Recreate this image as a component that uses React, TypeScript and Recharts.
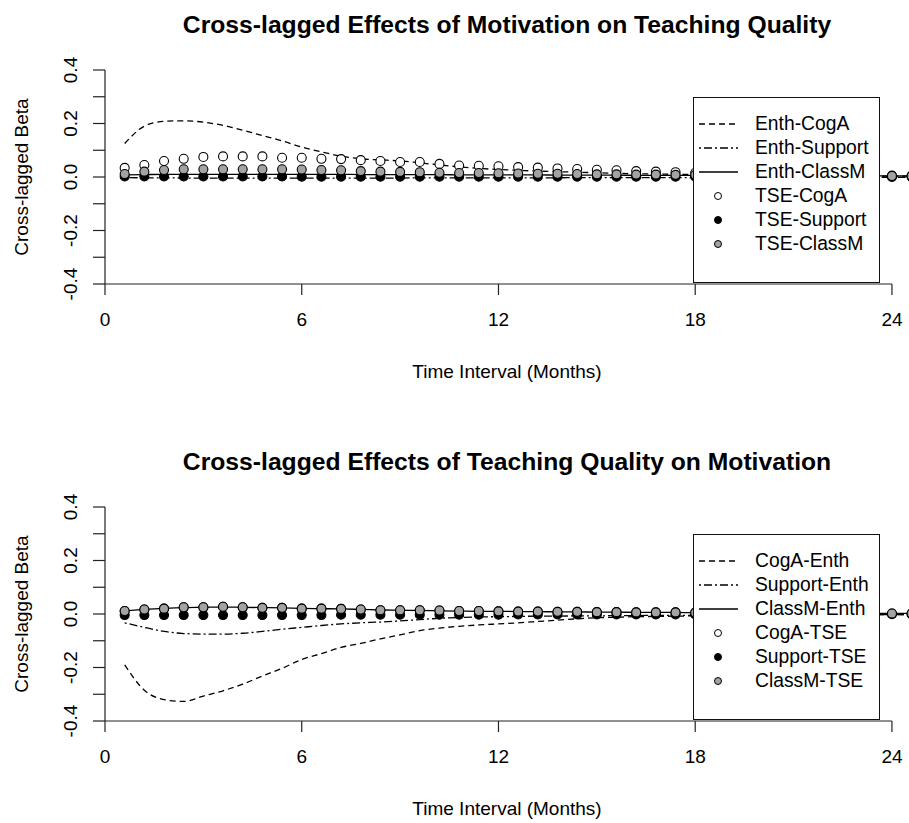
import { ComposedChart, Line, XAxis, YAxis, ReferenceLine, Label } from 'recharts'

const FONT = '"Liberation Sans", Arial, Helvetica, sans-serif'
const GRAY = '#a3a3a3'
const AXIS = '#222'

// time lags in months
const times = [0.6, 1.2, 1.8, 2.4, 3.0, 3.6, 4.2, 4.8, 5.4, 6.0, 6.6, 7.2, 7.8, 8.4, 9.0, 9.6, 10.2, 10.8, 11.4, 12.0, 12.6, 13.2, 13.8, 14.4, 15.0, 15.6, 16.2, 16.8, 17.4, 18.0, 18.6, 19.2, 19.8, 20.4, 21.0, 21.6, 22.2, 22.8, 23.4, 24.0, 24.6]
const xTicks = [0, 6, 12, 18, 24]
const yTicks = [-0.4, -0.3, -0.2, -0.1, 0, 0.1, 0.2, 0.3, 0.4]

// motivation -> teaching quality
const enthCogA = [0.125, 0.19, 0.208, 0.21, 0.205, 0.193, 0.175, 0.155, 0.135, 0.112, 0.094, 0.078, 0.068, 0.064, 0.06, 0.053, 0.045, 0.038, 0.032, 0.028, 0.025, 0.022, 0.02, 0.018, 0.016, 0.014, 0.012, 0.011, 0.01, 0.009, 0.008, 0.007, 0.006, 0.006, 0.005, 0.005, 0.004, 0.004, 0.003, 0.003, 0.003]
const enthSupport = [-0.002, -0.003, -0.003, -0.004, -0.004, -0.004, -0.004, -0.004, -0.004, -0.004, -0.004, -0.004, -0.004, -0.004, -0.004, -0.003, -0.003, -0.003, -0.003, -0.003, -0.003, -0.003, -0.003, -0.002, -0.002, -0.002, -0.002, -0.002, -0.002, -0.002, -0.002, -0.002, -0.001, -0.001, -0.001, -0.001, -0.001, -0.001, -0.001, -0.001, -0.001]
const enthClassM = [0.008, 0.009, 0.01, 0.01, 0.01, 0.01, 0.01, 0.01, 0.01, 0.01, 0.01, 0.01, 0.009, 0.009, 0.009, 0.009, 0.009, 0.008, 0.008, 0.008, 0.008, 0.008, 0.007, 0.007, 0.007, 0.007, 0.006, 0.006, 0.006, 0.006, 0.006, 0.005, 0.005, 0.005, 0.005, 0.005, 0.004, 0.004, 0.004, 0.004, 0.004]
const tseCogA = [0.034, 0.045, 0.06, 0.068, 0.075, 0.077, 0.077, 0.077, 0.072, 0.072, 0.068, 0.067, 0.063, 0.06, 0.056, 0.056, 0.049, 0.043, 0.042, 0.04, 0.037, 0.035, 0.032, 0.03, 0.027, 0.025, 0.022, 0.02, 0.018, 0.016, 0.014, 0.013, 0.011, 0.01, 0.009, 0.008, 0.007, 0.006, 0.005, 0.005, 0.004]
const tseSupport = [0.002, 0.002, 0.002, 0.002, 0.002, 0.002, 0.002, 0.002, 0.002, 0.001, 0.001, 0.001, 0.001, 0.001, 0.001, 0.001, 0.001, 0.001, 0.001, 0.001, 0.001, 0.001, 0.001, 0.001, 0.001, 0.001, 0.001, 0.001, 0.001, 0.001, 0.001, 0.001, 0, 0, 0, 0, 0, 0, 0, 0, 0]
const tseClassM = [0.011, 0.02, 0.026, 0.029, 0.029, 0.029, 0.029, 0.029, 0.029, 0.028, 0.026, 0.025, 0.022, 0.02, 0.019, 0.018, 0.016, 0.015, 0.015, 0.014, 0.013, 0.012, 0.012, 0.011, 0.01, 0.01, 0.009, 0.009, 0.008, 0.008, 0.007, 0.007, 0.006, 0.006, 0.006, 0.005, 0.005, 0.005, 0.004, 0.004, 0.004]

// teaching quality -> motivation
const cogAEnth = [-0.19, -0.285, -0.32, -0.327, -0.307, -0.287, -0.262, -0.232, -0.203, -0.17, -0.148, -0.125, -0.11, -0.093, -0.078, -0.062, -0.053, -0.046, -0.041, -0.037, -0.033, -0.028, -0.023, -0.018, -0.014, -0.012, -0.01, -0.009, -0.008, -0.007, -0.006, -0.006, -0.005, -0.005, -0.004, -0.004, -0.003, -0.003, -0.003, -0.002, -0.002]
const supportEnth = [-0.033, -0.05, -0.065, -0.073, -0.075, -0.075, -0.072, -0.065, -0.057, -0.05, -0.043, -0.037, -0.033, -0.03, -0.026, -0.021, -0.016, -0.013, -0.011, -0.01, -0.009, -0.008, -0.008, -0.007, -0.007, -0.006, -0.006, -0.005, -0.005, -0.005, -0.004, -0.004, -0.004, -0.003, -0.003, -0.003, -0.003, -0.002, -0.002, -0.002, -0.002]
const classMEnth = [0.012, 0.017, 0.021, 0.024, 0.025, 0.026, 0.025, 0.024, 0.023, 0.021, 0.02, 0.019, 0.017, 0.015, 0.014, 0.013, 0.012, 0.011, 0.01, 0.01, 0.009, 0.009, 0.008, 0.008, 0.007, 0.007, 0.006, 0.006, 0.006, 0.005, 0.005, 0.004, 0.004, 0.004, 0.003, 0.003, 0.003, 0.002, 0.002, 0.002, 0.002]
const cogATse = [0.011, 0.017, 0.02, 0.025, 0.025, 0.027, 0.025, 0.023, 0.023, 0.02, 0.02, 0.019, 0.017, 0.014, 0.014, 0.014, 0.013, 0.011, 0.011, 0.01, 0.009, 0.009, 0.008, 0.008, 0.007, 0.007, 0.006, 0.006, 0.006, 0.005, 0.005, 0.004, 0.004, 0.004, 0.003, 0.003, 0.003, 0.002, 0.002, 0.002, 0.002]
const supportTse = [-0.004, -0.004, -0.004, -0.004, -0.004, -0.004, -0.004, -0.004, -0.004, -0.004, -0.004, -0.003, -0.003, -0.003, -0.003, -0.003, -0.003, -0.003, -0.003, -0.003, -0.002, -0.002, -0.002, -0.002, -0.002, -0.002, -0.002, -0.002, -0.002, -0.002, -0.001, -0.001, -0.001, -0.001, -0.001, -0.001, -0.001, -0.001, -0.001, -0.001, -0.001]
const classMTse = [0.011, 0.017, 0.02, 0.025, 0.025, 0.027, 0.025, 0.023, 0.023, 0.02, 0.02, 0.019, 0.017, 0.014, 0.014, 0.014, 0.013, 0.011, 0.011, 0.01, 0.009, 0.009, 0.008, 0.008, 0.007, 0.007, 0.006, 0.006, 0.006, 0.005, 0.005, 0.004, 0.004, 0.004, 0.003, 0.003, 0.003, 0.002, 0.002, 0.002, 0.002]

type Series = { name: string; values: number[]; kind: 'line' | 'dot'; dash?: string; fill?: string }

const DASHED = '6 4'
const DOTDASH = '2 3 8 3'

const topSeries: Series[] = [
  { name: 'Enth-CogA', values: enthCogA, kind: 'line', dash: DASHED },
  { name: 'Enth-Support', values: enthSupport, kind: 'line', dash: DOTDASH },
  { name: 'Enth-ClassM', values: enthClassM, kind: 'line' },
  { name: 'TSE-CogA', values: tseCogA, kind: 'dot', fill: '#fff' },
  { name: 'TSE-Support', values: tseSupport, kind: 'dot', fill: '#000' },
  { name: 'TSE-ClassM', values: tseClassM, kind: 'dot', fill: GRAY },
]

const bottomSeries: Series[] = [
  { name: 'CogA-Enth', values: cogAEnth, kind: 'line', dash: DASHED },
  { name: 'Support-Enth', values: supportEnth, kind: 'line', dash: DOTDASH },
  { name: 'ClassM-Enth', values: classMEnth, kind: 'line' },
  { name: 'CogA-TSE', values: cogATse, kind: 'dot', fill: '#fff' },
  { name: 'Support-TSE', values: supportTse, kind: 'dot', fill: '#000' },
  { name: 'ClassM-TSE', values: classMTse, kind: 'dot', fill: GRAY },
]

function toRows(series: Series[]) {
  return times.map((t, i) => {
    const row: Record<string, number> = { t }
    series.forEach(s => { row[s.name] = s.values[i] })
    return row
  })
}

function YTick({ y, payload }: any) {
  const v = payload.value
  const major = Math.round(v * 10) % 2 === 0
  if (!major) return <g />
  const label = (Math.abs(v) < 1e-9 ? 0 : v).toFixed(1)
  return (
    <text x={77} y={y} transform={`rotate(-90, 77, ${y})`} textAnchor="middle"
      fontSize={19} fontFamily={FONT} fill="#000">
      {label}
    </text>
  )
}

function LegendBox({ series }: { series: Series[] }) {
  return (
    <div style={{
      position: 'absolute', left: 693, top: 97, width: 185, height: 170,
      border: '1px solid #111', background: '#fff', paddingTop: 14, boxSizing: 'content-box',
    }}>
      {series.map(s => (
        <div key={s.name} style={{ position: 'relative', height: 24 }}>
          <svg width={50} height={24} style={{ position: 'absolute', left: 4, top: 0 }}>
            {s.kind === 'line'
              ? <line x1={1} x2={40} y1={12} y2={12} stroke="#000" strokeWidth={1.3} strokeDasharray={s.dash} />
              : <circle cx={20} cy={12} r={3.5} fill={s.fill} stroke="#000" strokeWidth={1} />}
          </svg>
          <span style={{
            position: 'absolute', left: 61, top: 0, lineHeight: '24px',
            fontSize: 19.3, fontFamily: FONT, color: '#000', whiteSpace: 'nowrap',
          }}>{s.name}</span>
        </div>
      ))}
    </div>
  )
}

function Panel({ title, series, height }: { title: string; series: Series[]; height: number }) {
  const rows = toRows(series)
  return (
    <div style={{ position: 'relative', width: 909, height }}>
      <ComposedChart width={909} height={height} data={rows}
        margin={{ top: 70, right: 0, bottom: height - 284 - 100, left: 45 }}>
        <XAxis dataKey="t" type="number" domain={[0, 24.52]} ticks={xTicks} allowDataOverflow
          axisLine={false} tickSize={11} tickMargin={18} height={100}
          tickLine={{ stroke: AXIS, strokeWidth: 1.2 }}
          tick={{ fontSize: 19, fontFamily: FONT, fill: '#000' }}
          label={<Label content={() => (
            <text x={507} y={378} textAnchor="middle" fontSize={19} fontFamily={FONT} fill="#000">
              Time Interval (Months)
            </text>
          )} />} />
        <YAxis type="number" domain={[-0.4, 0.4]} ticks={yTicks} allowDataOverflow width={60}
          tickSize={12} axisLine={{ stroke: AXIS, strokeWidth: 1.2 }}
          tickLine={{ stroke: AXIS, strokeWidth: 1.2 }}
          tick={(p: any) => <YTick {...p} />}
          label={<Label content={() => (
            <text x={28} y={177} transform="rotate(-90, 28, 177)" textAnchor="middle"
              fontSize={19} fontFamily={FONT} fill="#000">
              Cross-lagged Beta
            </text>
          )} />} />
        <ReferenceLine segment={[{ x: 0, y: -0.4 }, { x: 24, y: -0.4 }]} stroke={AXIS}
          strokeWidth={1.2} ifOverflow="visible" />
        {series.filter(s => s.kind === 'line').map(s => (
          <Line key={s.name} dataKey={s.name} type="monotone" stroke="#000" strokeWidth={1.3}
            strokeDasharray={s.dash} dot={false} activeDot={false} isAnimationActive={false} />
        ))}
        {series.filter(s => s.kind === 'dot').map(s => (
          <Line key={s.name} dataKey={s.name} stroke="none" activeDot={false}
            dot={{ r: 4.5, fill: s.fill, stroke: '#000', strokeWidth: 1.1 }}
            isAnimationActive={false} />
        ))}
      </ComposedChart>
      <div style={{
        position: 'absolute', left: 105, top: 12, width: 804, textAlign: 'center',
        fontFamily: FONT, fontWeight: 'bold', fontSize: 24.7, lineHeight: '25px', color: '#000',
      }}>{title}</div>
      <LegendBox series={series} />
    </div>
  )
}

export default function App() {
  return (
    <div style={{ position: 'absolute', left: 0, top: 0, width: 909, height: 823, background: '#fff' }}>
      <Panel title="Cross-lagged Effects of Motivation on Teaching Quality" series={topSeries} height={437} />
      <Panel title="Cross-lagged Effects of Teaching Quality on Motivation" series={bottomSeries} height={386} />
    </div>
  )
}
